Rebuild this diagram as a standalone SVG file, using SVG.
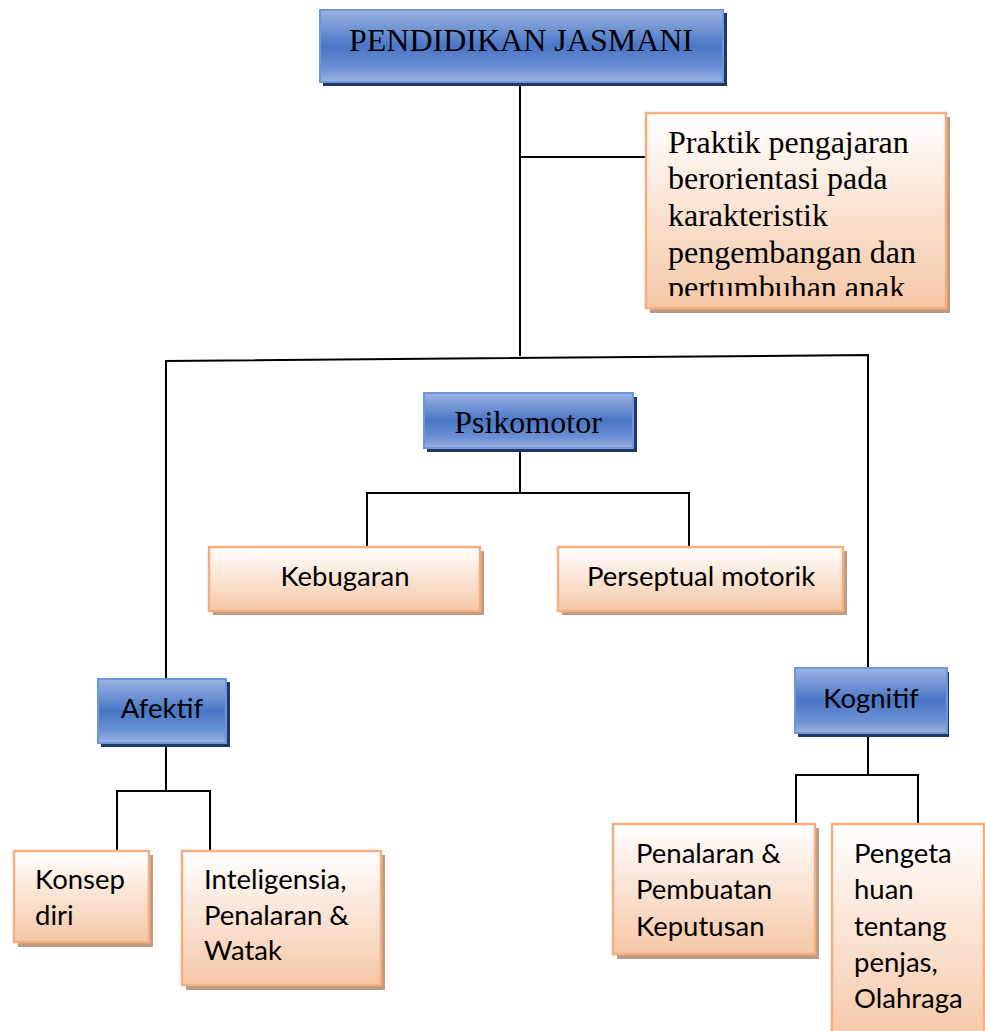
<svg xmlns="http://www.w3.org/2000/svg" width="985" height="1031" viewBox="0 0 985 1031">
  <defs>
    <linearGradient id="blueFill" x1="0" y1="0" x2="0" y2="1">
      <stop offset="0" stop-color="#9bb4e2"/>
      <stop offset="0.5" stop-color="#4a76c6"/>
      <stop offset="0.8" stop-color="#6a8fd3"/>
      <stop offset="1" stop-color="#9bb4e2"/>
    </linearGradient>
    <linearGradient id="peachFill" x1="0" y1="0" x2="0" y2="1">
      <stop offset="0" stop-color="#ffffff"/>
      <stop offset="1" stop-color="#f6c7a6"/>
    </linearGradient>
    <clipPath id="praktikClip">
      <rect x="648" y="115" width="296" height="181"/>
    </clipPath>
  </defs>
  <style>
    .blue { fill: url(#blueFill); stroke: #6f96da; stroke-width: 2; }
    .blueShadow { fill: #1f3864; }
    .peach { fill: url(#peachFill); stroke: #f4ae80; stroke-width: 2.5; }
    .peachShadow { fill: #bf9a82; }
    .serif { font-family: "Liberation Serif", "Times New Roman", serif; font-size: 32px; fill: #000; }
    .sans { font-family: Lato, "Open Sans", sans-serif; font-size: 27.5px; fill: #000; }
    .mid { text-anchor: middle; }
    .conn { stroke: #000; stroke-width: 2; fill: none; }
  </style>

  <!-- connectors -->
  <g id="connectors">
    <line class="conn" x1="520" y1="82" x2="520" y2="356"/>
    <line class="conn" x1="520" y1="157" x2="646" y2="157"/>
    <polyline class="conn" points="166,679 166,361 868,355 868,668"/>
    <polyline class="conn" points="520,448 520,493"/>
    <polyline class="conn" points="367,547 367,493 689,493 689,547"/>
    <polyline class="conn" points="166,743 166,791"/>
    <polyline class="conn" points="117,851 117,791 210,791 210,851"/>
    <polyline class="conn" points="868,733 868,775"/>
    <polyline class="conn" points="796,824 796,775 918,775 918,824"/>
  </g>

  <!-- PENDIDIKAN JASMANI -->
  <g id="node-pendidikan">
    <rect class="blueShadow" x="323" y="13" width="404" height="73"/>
    <rect class="blue" x="320" y="10" width="403" height="72"/>
    <text class="serif mid" x="521" y="51">PENDIDIKAN JASMANI</text>
  </g>

  <!-- Praktik pengajaran -->
  <g id="node-praktik">
    <rect class="peachShadow" x="650" y="117" width="300" height="196"/>
    <rect class="peach" x="646" y="113" width="300" height="195"/>
    <g clip-path="url(#praktikClip)">
      <text class="serif" x="668" y="153">Praktik pengajaran</text>
      <text class="serif" x="668" y="189">berorientasi pada</text>
      <text class="serif" x="668" y="226">karakteristik</text>
      <text class="serif" x="668" y="263">pengembangan dan</text>
      <text class="serif" x="668" y="298">pertumbuhan anak</text>
    </g>
  </g>

  <!-- Psikomotor -->
  <g id="node-psikomotor">
    <rect class="blueShadow" x="427" y="397" width="210" height="55"/>
    <rect class="blue" x="424" y="393" width="209" height="55"/>
    <text class="serif mid" x="528" y="433">Psikomotor</text>
  </g>

  <!-- Kebugaran -->
  <g id="node-kebugaran">
    <rect class="peachShadow" x="213" y="551" width="271" height="64"/>
    <rect class="peach" x="209" y="547" width="271" height="64"/>
    <text class="sans mid" x="345" y="586">Kebugaran</text>
  </g>

  <!-- Perseptual motorik -->
  <g id="node-perseptual">
    <rect class="peachShadow" x="562" y="551" width="285" height="64"/>
    <rect class="peach" x="558" y="547" width="285" height="64"/>
    <text class="sans mid" x="701" y="586">Perseptual motorik</text>
  </g>

  <!-- Afektif -->
  <g id="node-afektif">
    <rect class="blueShadow" x="101" y="682" width="129" height="65"/>
    <rect class="blue" x="98" y="679" width="128" height="64"/>
    <text class="sans mid" x="162" y="718">Afektif</text>
  </g>

  <!-- Kognitif -->
  <g id="node-kognitif">
    <rect class="blueShadow" x="798" y="672" width="151" height="65"/>
    <rect class="blue" x="795" y="668" width="152" height="65"/>
    <text class="sans mid" x="871" y="708">Kognitif</text>
  </g>

  <!-- Konsep diri -->
  <g id="node-konsep">
    <rect class="peachShadow" x="18" y="855" width="135" height="92"/>
    <rect class="peach" x="14" y="851" width="135" height="91"/>
    <text class="sans" x="35" y="889">Konsep</text>
    <text class="sans" x="35" y="925">diri</text>
  </g>

  <!-- Inteligensia, Penalaran & Watak -->
  <g id="node-inteligensia">
    <rect class="peachShadow" x="186" y="855" width="199" height="135"/>
    <rect class="peach" x="182" y="851" width="199" height="134"/>
    <text class="sans" x="204" y="889">Inteligensia,</text>
    <text class="sans" x="204" y="925">Penalaran &amp;</text>
    <text class="sans" x="204" y="960">Watak</text>
  </g>

  <!-- Penalaran & Pembuatan Keputusan -->
  <g id="node-penalaran">
    <rect class="peachShadow" x="617" y="828" width="202" height="131"/>
    <rect class="peach" x="613" y="824" width="202" height="130"/>
    <text class="sans" x="636" y="863">Penalaran &amp;</text>
    <text class="sans" x="636" y="899">Pembuatan</text>
    <text class="sans" x="636" y="936">Keputusan</text>
  </g>

  <!-- Pengetahuan tentang penjas, Olahraga -->
  <g id="node-pengetahuan">
    <rect class="peach" x="832" y="824" width="152" height="220"/>
    <text class="sans" x="854" y="863">Pengeta</text>
    <text class="sans" x="854" y="899">huan</text>
    <text class="sans" x="854" y="936">tentang</text>
    <text class="sans" x="854" y="972">penjas,</text>
    <text class="sans" x="854" y="1008">Olahraga</text>
  </g>
</svg>
